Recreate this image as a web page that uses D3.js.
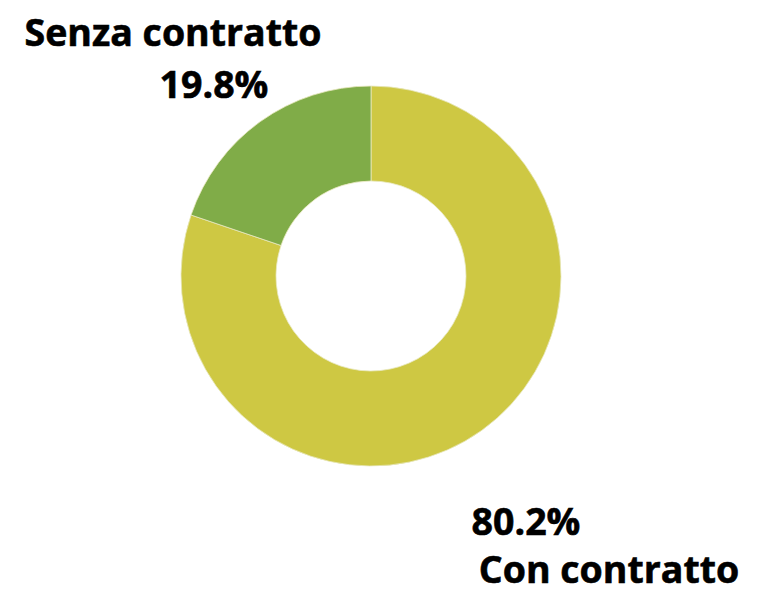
<!DOCTYPE html>
<html>
<head>
<meta charset="utf-8">
<script src="https://d3js.org/d3.v7.min.js"></script>
<style>
body { margin: 0; background: #fff; }
text { font-family: "Open Sans", "Noto Sans", sans-serif; font-weight: bold; fill: #000; }
</style>
</head>
<body>
<script>
// data
var categories = ["Con contratto", "Senza contratto"];
var values = [80.2, 19.8];
var colors = ["#cec843", "#80ac48"];

var width = 769, height = 594;
var cx = 371, cy = 276, outerR = 190, innerR = 95;

var svg = d3.select("body").append("svg")
	.attr("width", width)
	.attr("height", height);

var g = svg.append("g")
	.attr("transform", "translate(" + cx + "," + cy + ")");

var pie = d3.pie().sort(null).value(function(d) { return d; });
var arc = d3.arc().innerRadius(innerR).outerRadius(outerR);

g.selectAll("path")
	.data(pie(values))
	.enter().append("path")
	.attr("d", arc)
	.attr("fill", function(d, i) { return colors[i]; })
	.attr("stroke", "#e8e8c0")
	.attr("stroke-width", 0.8);

// labels (placed like the original, name and value on separate lines)
var labels = [
	{ text: categories[1], x: 173, y: 46 },
	{ text: values[1].toFixed(1) + "%", x: 214, y: 98 },
	{ text: values[0].toFixed(1) + "%", x: 526, y: 535 },
	{ text: categories[0], x: 609, y: 583 }
];

svg.selectAll("text.lab")
	.data(labels)
	.enter().append("text")
	.attr("class", "lab")
	.attr("x", function(d) { return d.x; })
	.attr("y", function(d) { return d.y; })
	.attr("text-anchor", "middle")
	.style("font-size", "37.5px")
	.style("stroke", "#000")
	.style("stroke-width", 0.6)
	.text(function(d) { return d.text; });
</script>
</body>
</html>
